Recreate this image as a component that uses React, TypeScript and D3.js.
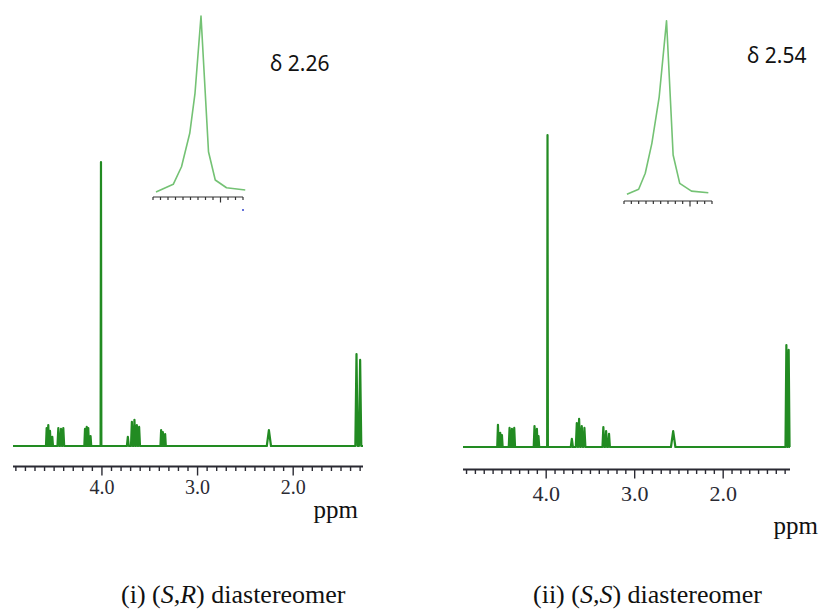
import * as d3 from "d3";

// main axis labels (ppm)
const axisLabels = [4.0, 3.0, 2.0];

// (i) (S,R) peak list: shift (ppm), relative intensity (tallest = 100), half width (ppm)
const srShifts = [4.578, 4.561, 4.543, 4.519, 4.456, 4.428, 4.404, 4.177, 4.159, 4.143, 4.119, 4.01, 3.729, 3.687, 3.66, 3.635, 3.611, 3.381, 3.363, 3.339, 2.254, 1.338, 1.3];
const srIntensity = [6.3, 7.4, 5.3, 3.2, 6.3, 6.0, 6.3, 6.0, 6.7, 6.3, 3.5, 100, 3.2, 8.5, 9.2, 7.4, 6.7, 5.6, 4.9, 4.2, 5.6, 32.4, 30.3];
const srHalfWidth = [0.007, 0.007, 0.007, 0.007, 0.009, 0.009, 0.009, 0.007, 0.007, 0.007, 0.007, 0.004, 0.01, 0.009, 0.009, 0.009, 0.009, 0.007, 0.007, 0.007, 0.022, 0.012, 0.012];

// (ii) (S,S) peak list
const ssShifts = [4.545, 4.519, 4.5, 4.414, 4.387, 4.361, 4.132, 4.105, 4.087, 3.985, 3.71, 3.654, 3.628, 3.598, 3.568, 3.354, 3.323, 3.29, 2.565, 1.286, 1.26];
const ssIntensity = [7.1, 4.5, 3.8, 6.1, 5.8, 6.1, 6.7, 5.8, 3.5, 100, 2.6, 7.7, 9.0, 6.7, 6.1, 6.4, 5.1, 4.2, 5.1, 32.7, 31.1];
const ssHalfWidth = [0.008, 0.008, 0.008, 0.009, 0.009, 0.009, 0.009, 0.008, 0.008, 0.004, 0.012, 0.011, 0.011, 0.011, 0.011, 0.01, 0.01, 0.01, 0.025, 0.01, 0.01];

// expanded insets: shift (ppm) / relative intensity
const srInsetShifts = [2.316, 2.293, 2.282, 2.271, 2.264, 2.256, 2.246, 2.237, 2.222, 2.197];
const srInsetIntensity = [2.8, 7.0, 16.7, 35.2, 57.3, 100, 25.0, 9.4, 5.1, 3.9];
const ssInsetShifts = [2.596, 2.58, 2.571, 2.562, 2.552, 2.542, 2.533, 2.524, 2.508, 2.485];
const ssInsetIntensity = [3.7, 6.5, 15.4, 32.0, 57.8, 100, 25.5, 9.8, 5.5, 4.6];

const GREEN = "#228b22";
const LIGHT_GREEN = "#74c274";
const INK = "#2a2a33";

type Peak = { shift: number; h: number; w: number };

const toPeaks = (s: number[], h: number[], w: number[]): Peak[] =>
  s.map((v, i) => ({ shift: v, h: h[i], w: w[i] }));

const Spectrum = ({
  peaks,
  domain,
  xRange,
  baseY,
  topY,
  axisY,
  labelSize,
  labelY,
  ppmX,
  ppmY,
}: {
  peaks: Peak[];
  domain: [number, number];
  xRange: [number, number];
  baseY: number;
  topY: number;
  axisY: number;
  labelSize: number;
  labelY: number;
  ppmX: number;
  ppmY: number;
}) => {
  const x = d3.scaleLinear().domain(domain).range(xRange);
  const y = d3.scaleLinear().domain([0, 100]).range([baseY, topY]);

  const sorted = [...peaks].sort((a, b) => b.shift - a.shift);
  const pts: [number, number][] = [[domain[0], 0]];
  sorted.forEach((p) => {
    pts.push([p.shift + p.w, 0], [p.shift, p.h], [p.shift - p.w, 0]);
  });
  pts.push([domain[1], 0]);

  const line = d3
    .line<[number, number]>()
    .x((d) => x(d[0]))
    .y((d) => y(d[1]));

  const minor = d3.range(13, 50).map((v) => v / 10);

  return (
    <g>
      <path d={line(pts) ?? ""} fill="none" stroke={GREEN} strokeWidth={2.2} strokeLinejoin="round" />
      <line x1={xRange[0]} x2={xRange[1]} y1={axisY} y2={axisY} stroke={INK} strokeWidth={1.8} />
      {minor.map((t) => {
        const major = axisLabels.some((m) => Math.abs(m - t) < 1e-6);
        return (
          <line
            key={t}
            x1={x(t)}
            x2={x(t)}
            y1={axisY}
            y2={axisY + (major ? 9 : 4.5)}
            stroke={INK}
            strokeWidth={1.4}
          />
        );
      })}
      {axisLabels.map((t) => (
        <text
          key={t}
          x={x(t)}
          y={labelY}
          textAnchor="middle"
          fontFamily="Liberation Serif, serif"
          fontSize={labelSize}
          fill={INK}
        >
          {t.toFixed(1)}
        </text>
      ))}
      <text x={ppmX} y={ppmY} textAnchor="end" fontFamily="Liberation Serif, serif" fontSize={25} fill="#111">
        ppm
      </text>
    </g>
  );
};

const Inset = ({
  shifts,
  values,
  domain,
  xRange,
  axisY,
  topY,
  longTick,
  label,
  labelX,
  labelY,
}: {
  shifts: number[];
  values: number[];
  domain: [number, number];
  xRange: [number, number];
  axisY: number;
  topY: number;
  longTick: number;
  label: string;
  labelX: number;
  labelY: number;
}) => {
  const x = d3.scaleLinear().domain(domain).range(xRange);
  const y = d3.scaleLinear().domain([0, 100]).range([axisY, topY]);
  const line = d3
    .line<number>()
    .x((_, i) => x(shifts[i]))
    .y((d) => y(d));
  const ticks = d3.range(0, 13).map((i) => +(domain[0] - i * 0.01).toFixed(2));
  return (
    <g>
      <path d={line(values) ?? ""} fill="none" stroke={LIGHT_GREEN} strokeWidth={1.6} strokeLinejoin="round" />
      <line x1={xRange[0]} x2={xRange[1]} y1={axisY} y2={axisY} stroke="#333" strokeWidth={1.2} />
      {ticks.map((t) => (
        <line
          key={t}
          x1={x(t)}
          x2={x(t)}
          y1={axisY}
          y2={axisY + (Math.abs(t - longTick) < 1e-6 ? 5.5 : 3)}
          stroke="#333"
          strokeWidth={1.2}
        />
      ))}
      <text x={labelX} y={labelY} fontFamily="Noto Sans, Open Sans, sans-serif" fontSize={21} fill="#111">
        {label}
      </text>
    </g>
  );
};

export default function App() {
  const srPeaks = toPeaks(srShifts, srIntensity, srHalfWidth);
  const ssPeaks = toPeaks(ssShifts, ssIntensity, ssHalfWidth);

  return (
    <svg
      width={824}
      height={614}
      style={{ position: "absolute", left: 0, top: 0, background: "#fff" }}
    >
      <Spectrum
        peaks={srPeaks}
        domain={[4.93, 1.27]}
        xRange={[13, 363]}
        baseY={446}
        topY={162}
        axisY={466.5}
        labelSize={20}
        labelY={494}
        ppmX={358}
        ppmY={518}
      />
      <Spectrum
        peaks={ssPeaks}
        domain={[4.94, 1.245]}
        xRange={[463, 790]}
        baseY={447}
        topY={135}
        axisY={469.5}
        labelSize={22}
        labelY={501}
        ppmX={818}
        ppmY={534}
      />
      <Inset
        shifts={srInsetShifts}
        values={srInsetIntensity}
        domain={[2.32, 2.2]}
        xRange={[153, 243]}
        axisY={197}
        topY={16}
        longTick={2.23}
        label="δ 2.26"
        labelX={270}
        labelY={71}
      />
      <circle cx={243} cy={210} r={1} fill="#3344cc" />
      <Inset
        shifts={ssInsetShifts}
        values={ssInsetIntensity}
        domain={[2.6, 2.48]}
        xRange={[624, 712]}
        axisY={201}
        topY={20.7}
        longTick={2.51}
        label="δ 2.54"
        labelX={747}
        labelY={63}
      />
      <text x={121} y={603} fontFamily="Liberation Serif, serif" fontSize={26} fill="#111">
        (i) (<tspan fontStyle="italic">S,R</tspan>) diastereomer
      </text>
      <text x={533} y={603} fontFamily="Liberation Serif, serif" fontSize={26} fill="#111">
        (ii) (<tspan fontStyle="italic">S,S</tspan>) diastereomer
      </text>
    </svg>
  );
}
